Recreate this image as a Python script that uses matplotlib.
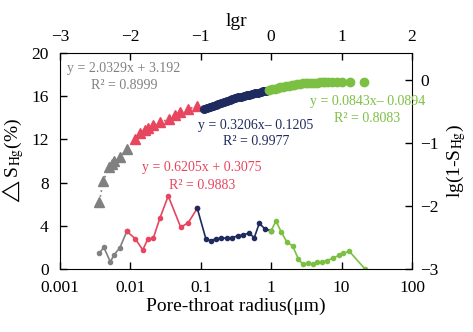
import matplotlib
matplotlib.use("Agg")
import matplotlib.pyplot as plt

plt.rcParams['font.family'] = ['Liberation Serif', 'DejaVu Sans']
plt.rcParams['mathtext.fontset'] = 'stix'

# pore-throat distribution curve (radius in um, delta S_Hg in %)
r_gray = [0.0036, 0.0042, 0.0052, 0.0058, 0.0071, 0.0089]
s_gray = [1.45, 2.0, 0.65, 1.27, 1.97, 3.49]
r_red = [0.0089, 0.0117, 0.0150, 0.0176, 0.0212, 0.0263, 0.0345, 0.0519, 0.0665, 0.0891]
s_red = [3.49, 2.81, 1.76, 2.75, 2.87, 4.72, 6.76, 3.86, 4.29, 5.62]
r_navy = [0.0891, 0.1186, 0.1396, 0.1644, 0.1954, 0.2333, 0.2805, 0.3373, 0.4018,
          0.4842, 0.5754, 0.6776, 0.8166, 1.0]
s_navy = [5.62, 2.75, 2.62, 2.81, 2.84, 2.87, 2.9, 3.08, 3.15, 3.33, 2.9, 4.23, 3.7, 3.55]
r_green = [1.0, 1.17, 1.38, 1.66, 2.02, 2.44, 2.82, 3.37, 3.88, 4.52, 5.21, 6.14, 7.46,
           9.27, 10.57, 12.88, 21.5]
s_green = [3.55, 4.44, 3.46, 2.53, 2.13, 0.9, 0.42, 0.53, 0.46, 0.62, 0.65, 0.77, 0.99,
           1.27, 1.45, 1.64, 0.0]

# fractal segments: lgr vs lg(1-S_Hg)
lgr_gray = [-2.44, -2.385, -2.30, -2.266, -2.23, -2.148, -2.053]
lg_gray = [-1.932, -1.598, -1.387, -1.334, -1.286, -1.217, -1.101]
lgr_red = [-1.935, -1.864, -1.788, -1.746, -1.675, -1.58, -1.447, -1.37, -1.295, -1.186, -1.058]
lg_red = [-0.943, -0.847, -0.794, -0.761, -0.719, -0.672, -0.619, -0.557, -0.513, -0.465, -0.413]
lgr_navy = [-0.95, -0.91, -0.87, -0.83, -0.79, -0.75, -0.71, -0.67, -0.63, -0.59, -0.55, -0.51,
            -0.47, -0.43, -0.39, -0.35, -0.31, -0.27, -0.23, -0.19, -0.15, -0.11, -0.07]
lg_navy = [-0.463, -0.445, -0.428, -0.411, -0.394, -0.378, -0.362, -0.346, -0.331, -0.317,
           -0.303, -0.290, -0.277, -0.265, -0.253, -0.242, -0.231, -0.220, -0.209, -0.199,
           -0.189, -0.180, -0.171]
lgr_green = [-0.03, 0.01, 0.05, 0.09, 0.13, 0.17, 0.21, 0.25, 0.29, 0.33, 0.37, 0.41, 0.45,
             0.49, 0.53, 0.57, 0.61, 0.65, 0.69, 0.73, 0.77, 0.81, 0.87, 0.93, 1.0, 1.12, 1.32]
lg_green = [-0.163, -0.150, -0.138, -0.127, -0.116, -0.106, -0.097, -0.088, -0.080, -0.073,
            -0.066, -0.060, -0.055, -0.051, -0.047, -0.044, -0.042, -0.040, -0.039, -0.038,
            -0.037, -0.036, -0.036, -0.035, -0.035, -0.034, -0.034]

gray = '#808080'
red = '#e8455e'
navy = '#1f2b5e'
green = '#7cc043'

fig = plt.figure(figsize=(4.73, 3.32), dpi=100)
pos = [0.1268, 0.1898, 0.7442, 0.6506]
ax = fig.add_axes(pos)
ax.set_xscale('log')
ax.set_xlim(0.001, 100)
ax.set_ylim(0, 20)
ax.set_yticks([0, 4, 8, 12, 16, 20])
ax.set_xticks([0.001, 0.01, 0.1, 1, 10, 100])
ax.set_xticklabels(['0.001', '0.01', '0.1', '1', '10', '100'])
ax.minorticks_off()
ax.tick_params(direction='in', labelsize=12.5, length=5, width=1, pad=8)
ax.set_xlabel('Pore-throat radius(μm)', fontsize=14, labelpad=1)
ax.set_ylabel('$\\triangle$S$_{\\mathrm{Hg}}$(%)', fontsize=14, labelpad=4)

ax.plot(r_gray, s_gray, '-o', color=gray, ms=3, lw=1.2)
ax.plot(r_red, s_red, '-o', color=red, ms=3, lw=1.2)
ax.plot(r_navy, s_navy, '-o', color=navy, ms=3, lw=1.2)
ax.plot(r_green, s_green, '-o', color=green, ms=3, lw=1.2)

# second axes for lgr / lg(1-S_Hg)
ax2 = fig.add_axes(pos, frameon=False)
ax2.set_xlim(-3, 2)
ax2.set_ylim(-3, 0.4286)
ax2.xaxis.tick_top()
ax2.xaxis.set_label_position('top')
ax2.yaxis.tick_right()
ax2.yaxis.set_label_position('right')
ax2.set_xticks([-3, -2, -1, 0, 1, 2])
ax2.set_yticks([-3, -2, -1, 0])
ax2.tick_params(direction='in', labelsize=12.5, length=5, width=1, pad=6)
ax2.set_xlabel('lgr', fontsize=14, labelpad=2)
ax2.set_ylabel('lg(1-S$_{\\mathrm{Hg}}$)', fontsize=14, labelpad=4)

ax2.plot(lgr_gray, lg_gray, ls=(0, (1, 2)), color=gray, lw=1.2)
ax2.plot(lgr_gray, lg_gray, '^', color=gray, ms=7, ls='none')
ax2.plot(lgr_red, lg_red, ls=(0, (1, 2)), color=red, lw=1.2)
ax2.plot(lgr_red, lg_red, '^', color=red, ms=7, ls='none')
ax2.plot(lgr_navy, lg_navy, 'o', color=navy, ms=5.5, ls='none')
ax2.plot(lgr_green, lg_green, 'o', color=green, ms=6, ls='none')

fs = 10
ax2.text(-2.90, 0.175, 'y = 2.0329x + 3.192', color=gray, fontsize=fs, ha='left', va='center')
ax2.text(-2.09, -0.095, 'R² = 0.8999', color=gray, fontsize=fs, ha='center', va='center')
ax2.text(-0.216, -0.730, 'y = 0.3206x– 0.1205', color=navy, fontsize=fs, ha='center', va='center')
ax2.text(-0.216, -0.984, 'R² = 0.9977', color=navy, fontsize=fs, ha='center', va='center')
ax2.text(-0.99, -1.397, 'y = 0.6205x + 0.3075', color=red, fontsize=fs, ha='center', va='center')
ax2.text(-0.98, -1.667, 'R² = 0.9883', color=red, fontsize=fs, ha='center', va='center')
ax2.text(1.368, -0.349, 'y = 0.0843x– 0.0894', color=green, fontsize=fs, ha='center', va='center')
ax2.text(1.368, -0.619, 'R² = 0.8083', color=green, fontsize=fs, ha='center', va='center')

fig.savefig('out.png', dpi=100)
